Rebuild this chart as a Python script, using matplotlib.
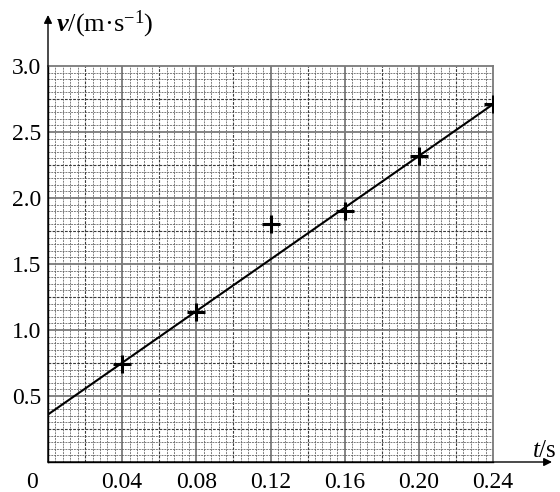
import numpy as np
import matplotlib
matplotlib.use("Agg")
import matplotlib.pyplot as plt

# Data
t_vals = [0.04, 0.08, 0.12, 0.16, 0.20, 0.24]
v_vals = [0.74, 1.14, 1.80, 1.90, 2.32, 2.71]
fit_t = [0.0, 0.24]
fit_v = [0.36, 2.71]
x_ticks = [0.04, 0.08, 0.12, 0.16, 0.20, 0.24]
x_labels = ["0.04", "0.08", "0.12", "0.16", "0.20", "0.24"]
y_ticks = [0.5, 1.0, 1.5, 2.0, 2.5, 3.0]
y_labels = ["0.5", "1.0", "1.5", "2.0", "2.5", "3.0"]

plt.rcParams['font.family'] = ['Liberation Serif', 'DejaVu Serif']
plt.rcParams['mathtext.fontset'] = 'custom'
plt.rcParams['mathtext.rm'] = 'Liberation Serif'
plt.rcParams['mathtext.it'] = 'Liberation Serif:italic'
plt.rcParams['mathtext.bf'] = 'Liberation Serif:italic:bold'

W, H = 560, 492
fig = plt.figure(figsize=(W/100, H/100), dpi=100)
L, R, B, T = 48, 493, 462, 66
ax = fig.add_axes([L/W, 1-B/H, (R-L)/W, (B-T)/H])
ax.set_xlim(0, 0.24)
ax.set_ylim(0, 3.0)

# grid: minor / medium / major
for i in range(1, 60):
    x = i*0.004
    if i % 10 == 0:
        ax.axvline(x, color='#7a7a7a', lw=1.3, zorder=1)
    elif i % 5 == 0:
        ax.axvline(x, color='#3a3a3a', lw=0.8, ls=(0, (2.5, 1.2)), zorder=1)
    else:
        ax.axvline(x, color='#5a5a5a', lw=0.55, ls=(0, (2.5, 1.2)), zorder=1)
for i in range(1, 60):
    y = i*0.05
    if i % 10 == 0:
        ax.axhline(y, color='#7a7a7a', lw=1.3, zorder=1)
    elif i % 5 == 0:
        ax.axhline(y, color='#3a3a3a', lw=0.8, ls=(0, (2.5, 1.2)), zorder=1)
    else:
        ax.axhline(y, color='#5a5a5a', lw=0.55, ls=(0, (2.5, 1.2)), zorder=1)

for s in ['top', 'right']:
    ax.spines[s].set_color('#7a7a7a')
    ax.spines[s].set_linewidth(1.3)
for s in ['left', 'bottom']:
    ax.spines[s].set_color('black')
    ax.spines[s].set_linewidth(1.0)

ax.set_xticks(x_ticks)
ax.set_xticklabels(x_labels)
ax.set_yticks(y_ticks)
ax.set_yticklabels(y_labels)
ax.tick_params(axis='both', length=0, labelsize=17)
ax.tick_params(axis='x', pad=7)
ax.tick_params(axis='y', pad=5)

ax.plot(fit_t, fit_v, color='black', lw=1.5, zorder=3)
ax.plot(t_vals, v_vals, ls='none', marker='+', ms=13, mew=2.2, color='black', zorder=4)

# axis arrows
ax.annotate('', xy=(0, (B-15)/(B-T)), xytext=(0, 0), xycoords='axes fraction',
            arrowprops=dict(arrowstyle='-|>', color='black', lw=1.0, mutation_scale=12,
                            shrinkA=0, shrinkB=0), annotation_clip=False)
ax.annotate('', xy=((552-L)/(R-L), 0), xytext=(0, 0), xycoords='axes fraction',
            arrowprops=dict(arrowstyle='-|>', color='black', lw=1.0, mutation_scale=12,
                            shrinkA=0, shrinkB=0), annotation_clip=False)

fig.text(32/W, 1-482/H, '0', fontsize=17, ha='center', va='center')
fig.text(56/W, 1-24/H, r'$\mathbf{v}$/(m·s$^{-1}$)', fontsize=19, ha='left', va='center')
fig.text(557/W, 1-451/H, r'$\mathit{t}$/s', fontsize=18, ha='right', va='center')

fig.savefig('out.png', dpi=100)
